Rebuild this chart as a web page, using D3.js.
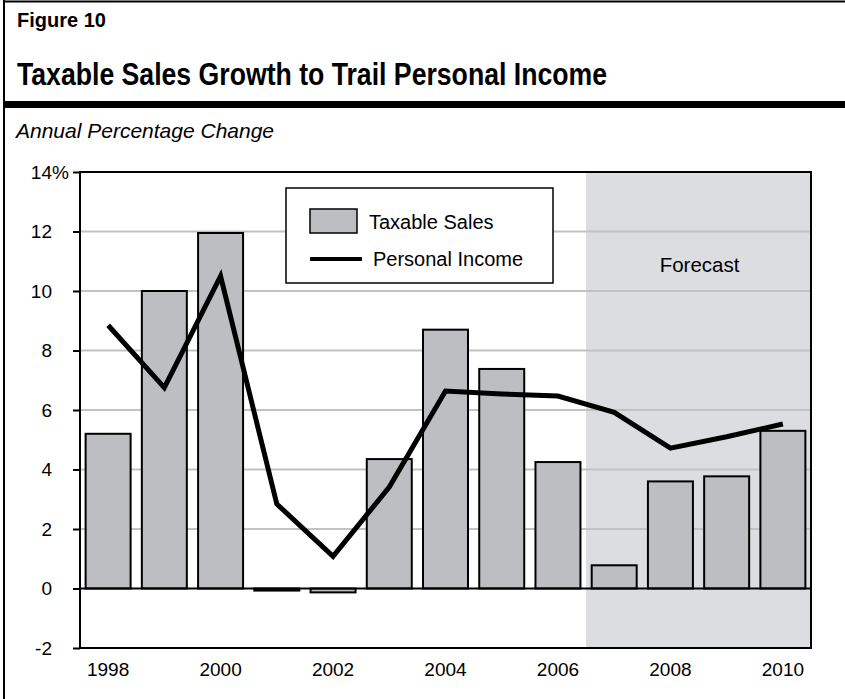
<!DOCTYPE html>
<html>
<head>
<meta charset="utf-8">
<script src="https://cdn.jsdelivr.net/npm/d3@7/dist/d3.min.js"></script>
<style>
  html, body { margin: 0; padding: 0; background: #fff; }
  svg { display: block; font-family: "Liberation Sans", Arial, Helvetica, sans-serif; }
</style>
</head>
<body>
<svg id="chart" width="845" height="699"></svg>
<script>
// Annual percentage change, 1998–2010 (2007 onward is forecast)
const years = ["1998","1999","2000","2001","2002","2003","2004","2005","2006","2007","2008","2009","2010"];
const taxableSales   = [5.2, 10.0, 11.95, -0.07, -0.13, 4.35, 8.7, 7.38, 4.25, 0.78, 3.6, 3.77, 5.3];
const personalIncome = [8.85, 6.75, 10.5, 2.84, 1.08, 3.41, 6.64, 6.54, 6.47, 5.92, 4.72, 5.1, 5.53];
const yTicks = [-2, 0, 2, 4, 6, 8, 10, 12, 14];
const xTickLabels = ["1998","2000","2002","2004","2006","2008","2010"];
const forecastStart = "2007";

const svg = d3.select("#chart");
const W = 845, H = 699;

// Outer figure frame
svg.append("line").attr("x1", 4).attr("x2", 4).attr("y1", 0).attr("y2", H)
  .attr("stroke", "#000").attr("stroke-width", 2);
svg.append("line").attr("x1", 3).attr("x2", W).attr("y1", 1.5).attr("y2", 1.5)
  .attr("stroke", "#000").attr("stroke-width", 2);
svg.append("rect").attr("x", 3).attr("y", 101).attr("width", W - 3).attr("height", 7)
  .attr("fill", "#000");

// Headings
svg.append("text").attr("x", 17).attr("y", 27)
  .attr("font-weight", "bold").attr("font-size", 20).text("Figure 10");
svg.append("text").attr("x", 17).attr("y", 85)
  .attr("font-weight", "bold").attr("font-size", 31)
  .attr("textLength", 590).attr("lengthAdjust", "spacingAndGlyphs")
  .text("Taxable Sales Growth to Trail Personal Income");
svg.append("text").attr("x", 16).attr("y", 138)
  .attr("font-style", "italic").attr("font-size", 21)
  .text("Annual Percentage Change");

// Plot area
const plotL = 80, plotR = 811, plotT = 172, plotB = 648;

const x = d3.scaleBand().domain(years).range([plotL, plotR])
  .paddingInner(0.2).paddingOuter(0.1);
const y = d3.scaleLinear().domain([-2, 14]).range([plotB, plotT]);
const cx = d => x(d) + x.bandwidth() / 2;

// Forecast shading
const fx = x(forecastStart) - x.step() * x.paddingInner() / 2;
svg.append("rect").attr("x", fx).attr("y", plotT).attr("width", plotR - fx).attr("height", plotB - plotT)
  .attr("fill", "#dcdde0");
svg.append("text").attr("x", (fx + plotR) / 2 + 1).attr("y", 272)
  .attr("text-anchor", "middle").attr("font-size", 20.5).text("Forecast");

// Gridlines
svg.append("g").selectAll("line").data(yTicks.filter(t => t !== 0 && t !== 14 && t !== -2)).join("line")
  .attr("x1", plotL).attr("x2", plotR)
  .attr("y1", d => y(d)).attr("y2", d => y(d))
  .attr("stroke", "#c2c2c2").attr("stroke-width", 2);

// Taxable sales bars
svg.append("g").selectAll("rect").data(taxableSales).join("rect")
  .attr("x", (d, i) => x(years[i]))
  .attr("width", x.bandwidth())
  .attr("y", d => y(Math.max(0, d)))
  .attr("height", d => Math.abs(y(d) - y(0)))
  .attr("fill", "#bdbec2").attr("stroke", "#000").attr("stroke-width", 2);

// Zero line
svg.append("line").attr("x1", plotL).attr("x2", plotR).attr("y1", y(0)).attr("y2", y(0))
  .attr("stroke", "#000").attr("stroke-width", 2);

// Personal income line
const line = d3.line().x((d, i) => cx(years[i])).y(d => y(d));
svg.append("path").datum(personalIncome).attr("d", line)
  .attr("fill", "none").attr("stroke", "#000").attr("stroke-width", 5)
  .attr("stroke-linejoin", "miter").attr("stroke-miterlimit", 3);

// Plot frame
svg.append("rect").attr("x", plotL).attr("y", plotT).attr("width", plotR - plotL).attr("height", plotB - plotT)
  .attr("fill", "none").attr("stroke", "#000").attr("stroke-width", 2);

// Y axis
const tickLen = 7, tickPad = 21, tickFont = 19;
const yAxis = d3.axisLeft(y).tickValues(yTicks).tickSize(tickLen).tickPadding(tickPad)
  .tickFormat(d => d);
const gy = svg.append("g").attr("transform", `translate(${plotL},0)`).call(yAxis);
gy.select(".domain").remove();
gy.selectAll(".tick line").attr("stroke", "#000").attr("stroke-width", 2);
gy.selectAll(".tick text").attr("font-size", tickFont).attr("font-family", null).attr("fill", "#000");
// percent sign hangs to the right of the top label's digits
gy.selectAll(".tick").filter(d => d === 14).append("text")
  .attr("x", -(tickLen + tickPad)).attr("dy", "0.32em")
  .attr("font-size", tickFont).attr("fill", "#000").attr("text-anchor", "start")
  .text("%");

// X axis labels
const xAxis = d3.axisBottom(x).tickValues(xTickLabels).tickSize(0).tickPadding(15);
const gx = svg.append("g").attr("transform", `translate(0,${plotB})`).call(xAxis);
gx.select(".domain").remove();
gx.selectAll(".tick text").attr("font-size", tickFont).attr("font-family", null).attr("fill", "#000");

// Legend
const lg = svg.append("g");
lg.append("rect").attr("x", 286).attr("y", 188).attr("width", 267).attr("height", 95)
  .attr("fill", "#fff").attr("stroke", "#000").attr("stroke-width", 1.5);
lg.append("rect").attr("x", 310).attr("y", 209).attr("width", 47).attr("height", 24)
  .attr("fill", "#bdbec2").attr("stroke", "#000").attr("stroke-width", 1.5);
lg.append("text").attr("x", 369).attr("y", 229).attr("font-size", 20).text("Taxable Sales");
lg.append("line").attr("x1", 310).attr("x2", 362).attr("y1", 259).attr("y2", 259)
  .attr("stroke", "#000").attr("stroke-width", 4);
lg.append("text").attr("x", 373).attr("y", 266).attr("font-size", 20).text("Personal Income");
</script>
</body>
</html>
